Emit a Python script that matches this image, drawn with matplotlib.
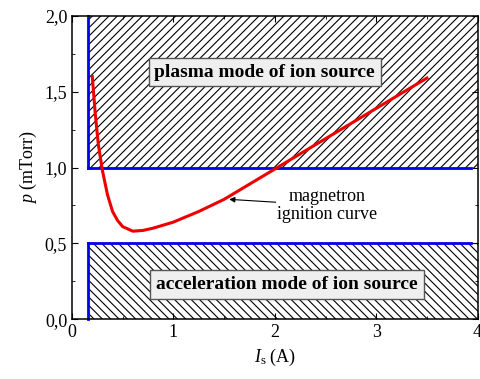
import matplotlib
matplotlib.use("Agg")
import matplotlib.pyplot as plt
from matplotlib.patches import Rectangle
from matplotlib.ticker import MultipleLocator, FuncFormatter

# magnetron ignition curve
current = [0.20, 0.23, 0.26, 0.30, 0.35, 0.40, 0.45, 0.50, 0.60, 0.70, 0.80,
           1.00, 1.25, 1.50, 1.75, 2.00, 2.25, 2.50, 2.75, 3.00, 3.25, 3.50]
pressure = [1.60, 1.35, 1.15, 0.98, 0.82, 0.71, 0.65, 0.61, 0.58, 0.585, 0.60,
            0.64, 0.71, 0.79, 0.89, 0.99, 1.09, 1.19, 1.29, 1.39, 1.49, 1.59]

# mode regions (x0, x1, y0, y1)
plasma_region = (0.16, 4.0, 1.0, 2.0)
accel_region = (0.16, 4.0, 0.0, 0.5)
blue_end = 3.93

plt.rcParams.update({
    "font.family": "Liberation Serif",
    "font.size": 13,
    "hatch.linewidth": 0.8,
    "mathtext.fontset": "custom",
    "mathtext.it": "Liberation Serif:italic",
    "mathtext.rm": "Liberation Serif",
})

fig = plt.figure(figsize=(4.8, 3.79), dpi=100)
ax = fig.add_axes([0.15, 0.158, 0.845, 0.8])

for (x0, x1, y0, y1), hatch, top in [(plasma_region, "////", False),
                                     (accel_region, "\\\\\\\\", True)]:
    ax.add_patch(Rectangle((x0, y0), x1 - x0, y1 - y0, fill=False,
                           hatch=hatch, lw=0, edgecolor="black", zorder=1))
    yh = y1 if top else y0
    ax.plot([x0, x0], [y0, y1], color="#0000ee", lw=2, zorder=2, clip_on=False)
    ax.plot([x0, blue_end], [yh, yh], color="#0000ee", lw=2, zorder=2)

ax.plot(current, pressure, color="#ee0000", lw=2.2, zorder=3)

bbox = dict(boxstyle="square,pad=0.3", facecolor="#efefef", edgecolor="#555555", lw=1)
ax.text(1.9, 1.63, "plasma mode of ion source", ha="center", va="center",
        fontweight="bold", fontsize=14, bbox=bbox, zorder=4)
ax.text(2.12, 0.23, "acceleration mode of ion source", ha="center", va="center",
        fontweight="bold", fontsize=14, bbox=bbox, zorder=4)

ax.annotate("magnetron\nignition curve", xy=(1.55, 0.79), xytext=(2.52, 0.75),
            ha="center", va="center", fontsize=13, linespacing=1.1,
            bbox=dict(facecolor="white", edgecolor="none", pad=1),
            arrowprops=dict(arrowstyle="-|>", color="black", lw=0.8,
                            mutation_scale=8, shrinkA=0, shrinkB=0), zorder=5)

ax.set_xlim(0, 4)
ax.set_ylim(0, 2)
ax.xaxis.set_major_locator(MultipleLocator(1))
ax.xaxis.set_minor_locator(MultipleLocator(0.5))
ax.yaxis.set_major_locator(MultipleLocator(0.5))
ax.yaxis.set_minor_locator(MultipleLocator(0.25))
ax.yaxis.set_major_formatter(FuncFormatter(lambda v, p: f"{v:.1f}".replace(".", ",")))
ax.tick_params(which="both", direction="in", top=True, right=True, labelsize=13)
ax.tick_params(which="major", length=4)
ax.tick_params(which="minor", length=2.5)
for s in ax.spines.values():
    s.set_linewidth(1.1)

ax.set_xlabel(r"$I_{\rm s}$ (A)", fontsize=13)
ax.set_ylabel(r"$p$ (mTorr)", fontsize=13)

fig.savefig("out.png", dpi=100)
